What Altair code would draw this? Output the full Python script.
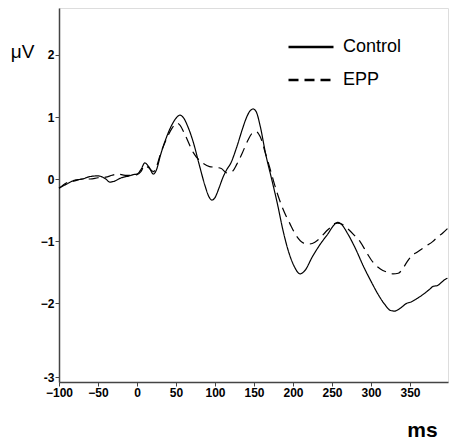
import altair as alt
import pandas as pd

ctrl_ms = [-100, -90, -80, -70, -60, -50, -40, -35, -30, -20, -10, -5, 0, 5, 10, 15, 21, 25, 30, 38,
           45, 50, 55, 60, 65, 72, 80, 87, 92, 96, 100, 105, 110, 115, 120, 128, 135, 140, 145, 149,
           153, 158, 165, 173, 180, 187, 195, 202, 209, 215, 225, 235, 245, 252, 257, 262, 270, 280,
           290, 300, 310, 318, 325, 330, 338, 345, 352, 360, 368, 375, 380, 385, 390, 395, 398]
ctrl_uv = [-0.15, -0.08, -0.02, 0.0, 0.04, 0.05, 0.0, -0.05, -0.04, 0.02, 0.05, 0.07, 0.08, 0.15, 0.26,
           0.2, 0.08, 0.15, 0.38, 0.68, 0.88, 0.98, 1.03, 0.98, 0.85, 0.6, 0.22, -0.1, -0.28, -0.34,
           -0.3, -0.15, 0.02, 0.15, 0.25, 0.52, 0.8, 0.98, 1.1, 1.13, 1.08, 0.85, 0.4, -0.02, -0.4,
           -0.82, -1.2, -1.42, -1.53, -1.48, -1.25, -1.05, -0.88, -0.75, -0.7, -0.73, -0.88, -1.12,
           -1.4, -1.65, -1.88, -2.03, -2.12, -2.13, -2.08, -2.01, -1.98, -1.92, -1.85, -1.78, -1.73,
           -1.72, -1.67, -1.62, -1.6]

epp_ms = [-100, -90, -80, -70, -60, -50, -40, -32, -25, -15, -5, 0, 5, 10, 15, 21, 25, 30, 38, 45,
          51, 55, 62, 72, 80, 85, 93, 100, 108, 115, 122, 128, 135, 142, 148, 153, 158, 165, 170,
          179, 187, 196, 205, 213, 220, 228, 235, 242, 248, 253, 257, 263, 270, 278, 286, 295, 303,
          312, 320, 328, 335, 340, 346, 352, 359, 366, 372, 379, 385, 392, 398]
epp_uv = [-0.15, -0.06, -0.03, 0.0, 0.0, 0.02, 0.03, 0.06, 0.08, 0.06, 0.06, 0.07, 0.12, 0.22, 0.18,
          0.12, 0.2, 0.4, 0.65, 0.82, 0.9, 0.87, 0.7, 0.43, 0.3, 0.25, 0.2, 0.19, 0.17, 0.1, 0.12,
          0.24, 0.42, 0.62, 0.74, 0.76, 0.68, 0.4, 0.19, -0.2, -0.48, -0.72, -0.93, -1.03, -1.05,
          -1.02, -0.95, -0.85, -0.78, -0.72, -0.71, -0.73, -0.8, -0.9, -1.01, -1.2, -1.35, -1.45,
          -1.5, -1.53, -1.52, -1.46, -1.34, -1.24, -1.18, -1.12, -1.07, -1.01, -0.94, -0.87, -0.8]

series_names = ["Control", "EPP"]
x_ticks = [-100, -50, 0, 50, 100, 150, 200, 250, 300, 350]
y_min, y_max = -3.274, 2.758
y_ticks = [-3.2, -2, -1, 0, 1, 2]

df = pd.concat([
    pd.DataFrame({"ms": ctrl_ms, "uv": ctrl_uv, "group": series_names[0]}),
    pd.DataFrame({"ms": epp_ms, "uv": epp_uv, "group": series_names[1]}),
])

FONT = "Liberation Sans"

chart = alt.Chart(df).mark_line(interpolate="monotone", color="black", strokeWidth=1.2).encode(
    x=alt.X("ms:Q",
            scale=alt.Scale(domain=[-100, 398.7], nice=False, zero=False),
            axis=alt.Axis(values=x_ticks, title="ms", titleAngle=0, titleX=363, titleY=48,
                          titleAlign="center", titleBaseline="middle", titleFontSize=21,
                          titleFontWeight="bold", titleFont=FONT,
                          labelFont=FONT, labelFontWeight="bold", labelFontSize=12,
                          labelColor="black", labelPadding=1, tickSize=4, labelFlush=False,
                          labelOverlap=False,
                          grid=False, domainColor="#444", domainWidth=1.5, tickColor="#444")),
    y=alt.Y("uv:Q",
            scale=alt.Scale(domain=[y_min, y_max], nice=False, zero=False),
            axis=alt.Axis(values=y_ticks, title="μV", titleAngle=0, titleX=-37, titleY=43,
                          titleAlign="center", titleBaseline="middle", titleFontSize=19,
                          titleFontWeight="normal", titleFont=FONT,
                          labelExpr="datum.value < -3 ? '-3' : datum.label",
                          labelFont=FONT, labelFontWeight="bold", labelFontSize=12,
                          labelColor="black", labelPadding=1, tickSize=4, labelFlush=False,
                          labelOverlap=False,
                          grid=False, domainColor="#444", domainWidth=1.5, tickColor="#444")),
    strokeDash=alt.StrokeDash("group:N",
                              scale=alt.Scale(domain=series_names, range=[[1, 0], [10, 6]]),
                              legend=alt.Legend(title=None, orient="none", legendX=228, legendY=15,
                                                symbolType="stroke", symbolSize=2025,
                                                symbolStrokeWidth=2.5, symbolStrokeColor="black",
                                                labelFont=FONT, labelFontSize=18, labelColor="black",
                                                rowPadding=-12, labelOffset=8)),
).properties(
    width=389, height=374,
    autosize=alt.AutoSizeParams(type="none"),
    padding={"left": 59, "top": 8, "right": 1, "bottom": 60},
).configure_view(stroke=None).configure(background="white")

chart.save("out.html", embed_options={"renderer": "svg", "actions": False})
